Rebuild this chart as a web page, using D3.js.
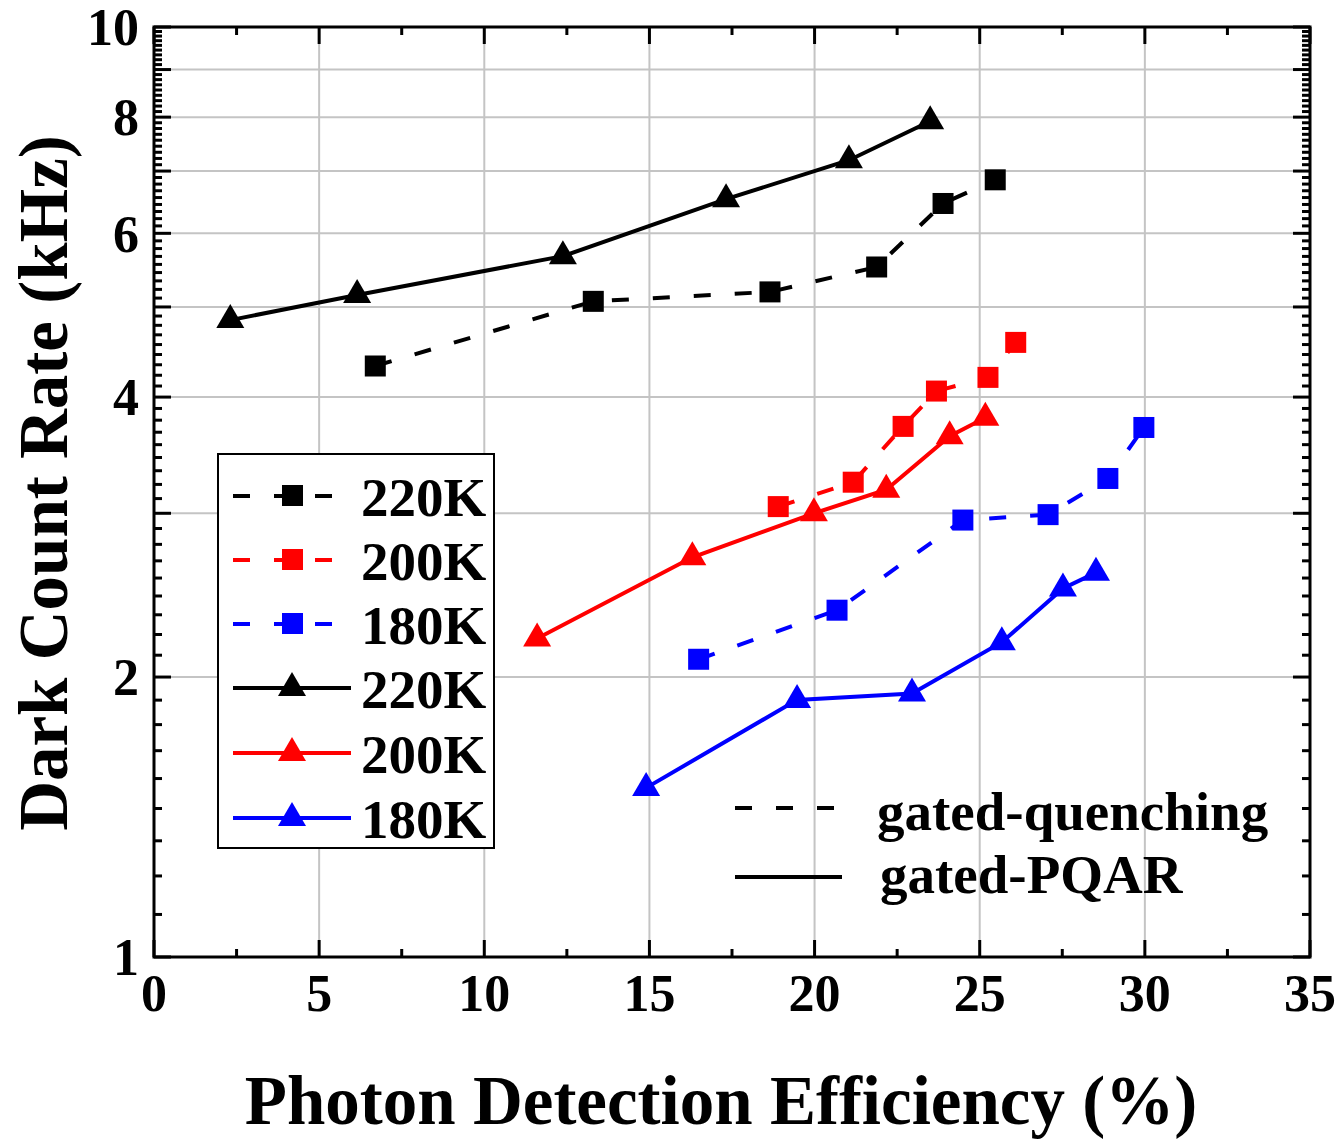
<!DOCTYPE html>
<html>
<head>
<meta charset="utf-8">
<script src="https://cdn.jsdelivr.net/npm/d3@7"></script>
<style>
  html, body { margin: 0; padding: 0; background: #fff; }
  svg { display: block; }
  text { font-family: "Liberation Serif", "Times New Roman", serif; font-weight: bold; fill: #000; }
</style>
</head>
<body>
<svg id="chart" width="1344" height="1139"></svg>
<script>
// ---------- data ----------
const xTickValues = [0, 5, 10, 15, 20, 25, 30, 35];
const yTickLabels = [1, 2, 4, 6, 8, 10];
const seriesNames = ["220K", "200K", "180K", "220K", "200K", "180K"];
const seriesColors = ["#000000", "#ff0000", "#0000ff", "#000000", "#ff0000", "#0000ff"];
const seriesKinds = ["quench", "quench", "quench", "pqar", "pqar", "pqar"];

const gq220x = [6.7, 13.3, 18.65, 21.88, 23.89, 25.47];
const gq220y = [4.32, 5.07, 5.19, 5.52, 6.46, 6.85];
const gq200x = [18.9, 21.17, 22.68, 23.69, 25.25, 26.09];
const gq200y = [3.05, 3.24, 3.72, 4.06, 4.20, 4.58];
const gq180x = [16.49, 20.68, 24.49, 27.07, 28.88, 29.97];
const gq180y = [2.09, 2.36, 2.95, 2.99, 3.27, 3.71];
const pq220x = [2.31, 6.15, 12.38, 17.32, 21.04, 23.5];
const pq220y = [4.84, 5.15, 5.67, 6.53, 7.19, 7.92];
const pq200x = [11.6, 16.3, 19.98, 22.17, 24.09, 25.17];
const pq200y = [2.20, 2.69, 3.00, 3.18, 3.63, 3.80];
const pq180x = [14.9, 19.47, 22.95, 25.67, 27.52, 28.52];
const pq180y = [1.52, 1.89, 1.92, 2.18, 2.49, 2.59];

const seriesX = [gq220x, gq200x, gq180x, pq220x, pq200x, pq180x];
const seriesY = [gq220y, gq200y, gq180y, pq220y, pq200y, pq180y];

const methodLabels = ["gated-quenching", "gated-PQAR"];

// ---------- layout ----------
const svg = d3.select("#chart");
const L = 154, R = 1310, T = 27, B = 957;
const x = d3.scaleLinear().domain([0, 35]).range([L, R]);
const y = d3.scaleLog().domain([1, 10]).range([B, T]);

const dash = "17,24";
const triPath = "M0,-16L14,8L-14,8Z";

// grid
const gridG = svg.append("g");
gridG.selectAll("line.gx").data(xTickValues.filter(v => v > 0 && v < 35)).join("line")
  .attr("x1", d => x(d)).attr("x2", d => x(d)).attr("y1", T).attr("y2", B)
  .attr("stroke", "#c4c4c4").attr("stroke-width", 2);
const yInts = d3.range(2, 10);
gridG.selectAll("line.gy").data(yInts).join("line")
  .attr("x1", L).attr("x2", R).attr("y1", d => y(d)).attr("y2", d => y(d))
  .attr("stroke", "#c4c4c4").attr("stroke-width", 2);

// axes ticks
const yMajor = d3.range(1, 11);
const yMinor = [];
for (let k = 1; k < 10; k++) for (let j = 1; j <= 8; j++) yMinor.push(k + j / 9);
const xMinor = d3.range(2.5, 35, 5);

const axG = svg.append("g").attr("stroke", "#000").attr("stroke-width", 3);
function yTicks(vals, len) {
  axG.selectAll(null).data(vals).join("line")
    .attr("x1", L).attr("x2", L + len).attr("y1", d => y(d)).attr("y2", d => y(d));
  axG.selectAll(null).data(vals).join("line")
    .attr("x1", R).attr("x2", R - len).attr("y1", d => y(d)).attr("y2", d => y(d));
}
function xTicksDraw(vals, len) {
  axG.selectAll(null).data(vals).join("line")
    .attr("x1", d => x(d)).attr("x2", d => x(d)).attr("y1", B).attr("y2", B - len);
  axG.selectAll(null).data(vals).join("line")
    .attr("x1", d => x(d)).attr("x2", d => x(d)).attr("y1", T).attr("y2", T + len);
}
yTicks(yMajor, 17);
yTicks(yMinor, 8);
xTicksDraw(xTickValues, 17);
xTicksDraw(xMinor, 8);
axG.append("rect").attr("x", L).attr("y", T).attr("width", R - L).attr("height", B - T)
  .attr("fill", "none");

// tick labels
svg.append("g").selectAll("text").data(xTickValues).join("text")
  .attr("x", d => x(d)).attr("y", 1011).attr("text-anchor", "middle")
  .attr("font-size", 52).text(d => d);
svg.append("g").selectAll("text").data(yTickLabels).join("text")
  .attr("x", 139).attr("y", d => y(d)).attr("dy", "0.35em").attr("text-anchor", "end")
  .attr("font-size", 52).text(d => d);

// axis titles
svg.append("text").attr("x", 721).attr("y", 1124).attr("text-anchor", "middle")
  .attr("font-size", 69).text("Photon Detection Efficiency (%)");
svg.append("text").attr("transform", "translate(67,483) rotate(-90)").attr("text-anchor", "middle")
  .attr("font-size", 69).text("Dark Count Rate (kHz)");

// legend box
const lg = svg.append("g");
lg.append("rect").attr("x", 218).attr("y", 454).attr("width", 276).attr("height", 394)
  .attr("fill", "#fff").attr("stroke", "#000").attr("stroke-width", 2);
const rowY = [496, 560, 624, 688, 753, 818];
seriesNames.forEach((name, i) => {
  const yy = rowY[i];
  lg.append("line").attr("x1", 233).attr("x2", 351).attr("y1", yy).attr("y2", yy)
    .attr("stroke", seriesColors[i]).attr("stroke-width", 4)
    .attr("stroke-dasharray", seriesKinds[i] === "quench" ? dash : null);
  if (seriesKinds[i] === "quench") {
    lg.append("rect").attr("x", 282).attr("y", yy - 11).attr("width", 21).attr("height", 21)
      .attr("fill", seriesColors[i]);
  } else {
    lg.append("path").attr("d", triPath).attr("transform", `translate(292,${yy})`)
      .attr("fill", seriesColors[i]);
  }
  lg.append("text").attr("x", 361).attr("y", yy).attr("dy", "0.36em")
    .attr("font-size", 55).text(name);
});

// method legend
const ml = svg.append("g");
ml.append("line").attr("x1", 735).attr("x2", 835).attr("y1", 808).attr("y2", 808)
  .attr("stroke", "#000").attr("stroke-width", 4).attr("stroke-dasharray", dash);
ml.append("line").attr("x1", 735).attr("x2", 842).attr("y1", 877).attr("y2", 877)
  .attr("stroke", "#000").attr("stroke-width", 4);
ml.append("text").attr("x", 877).attr("y", 830).attr("font-size", 55).text(methodLabels[0]);
ml.append("text").attr("x", 880).attr("y", 893).attr("font-size", 55).text(methodLabels[1]);

// series
const line = d3.line().x(d => x(d[0])).y(d => y(d[1]));
const order = [0, 1, 2, 3, 4, 5];
order.forEach(i => {
  const pts = seriesX[i].map((v, k) => [v, seriesY[i][k]]);
  const g = svg.append("g");
  g.append("path").datum(pts).attr("d", line).attr("fill", "none")
    .attr("stroke", seriesColors[i]).attr("stroke-width", 4)
    .attr("stroke-dasharray", seriesKinds[i] === "quench" ? dash : null);
  if (seriesKinds[i] === "quench") {
    g.selectAll("rect").data(pts).join("rect")
      .attr("x", d => x(d[0]) - 10.5).attr("y", d => y(d[1]) - 10.5)
      .attr("width", 21).attr("height", 21).attr("fill", seriesColors[i]);
  } else {
    g.selectAll("path.m").data(pts).join("path").attr("class", "m")
      .attr("d", triPath).attr("transform", d => `translate(${x(d[0])},${y(d[1])})`)
      .attr("fill", seriesColors[i]);
  }
});
</script>
</body>
</html>
